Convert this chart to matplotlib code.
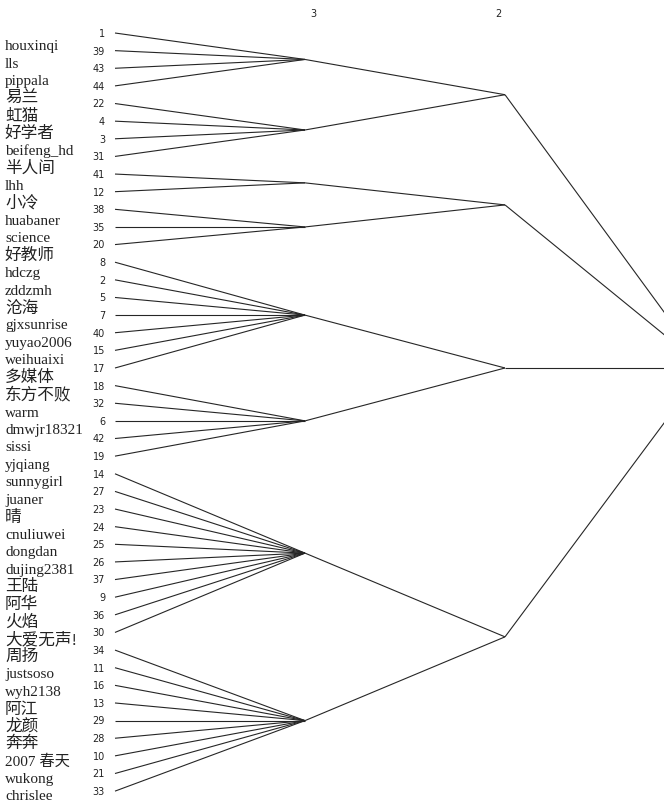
import numpy as np
import matplotlib
matplotlib.use("Agg")
import matplotlib.pyplot as plt

# user names, listed down the left side
names = ["houxinqi", "lls", "pippala", "易兰", "虹猫", "好学者", "beifeng_hd", "半人间",
         "lhh", "小冷", "huabaner", "science", "好教师", "hdczg", "zddzmh", "沧海",
         "gjxsunrise", "yuyao2006", "weihuaixi", "多媒体", "东方不败", "warm",
         "dmwjr18321", "sissi", "yjqiang", "sunnygirl", "juaner", "晴", "cnuliuwei",
         "dongdan", "dujing2381", "王陆", "阿华", "火焰", "大爱无声!", "周扬",
         "justsoso", "wyh2138", "阿江", "龙颜", "奔奔", "2007 春天", "wukong", "chrislee"]

# leaf ids in tree order
leaf_ids = [1, 39, 43, 44, 22, 4, 3, 31, 41, 12, 38, 35, 20, 8, 2, 5, 7, 40, 15, 17,
            18, 32, 6, 42, 19, 14, 27, 23, 24, 25, 26, 37, 9, 36, 30, 34, 11, 16, 13,
            29, 28, 10, 21, 33]

# number of leaves in each level-3 cluster
level3_sizes = [4, 4, 2, 3, 7, 5, 10, 9]
# number of level-3 clusters joined in each level-2 cluster
level2_sizes = [2, 2, 2, 2]
# level labels shown at the top
level_labels = ["3", "2"]

fig = plt.figure(figsize=(6.64, 8.07), dpi=100)
ax = fig.add_axes([0, 0, 1, 1])
ax.set_xlim(4.525, 1.205)
ax.set_ylim(43.9, -1.872)
ax.axis("off")

line_kw = dict(color="#262626", lw=0.8, solid_capstyle="butt")
leaf_x = 3.95

leaf_y = np.arange(len(leaf_ids), dtype=float)

# level 3
l3_y = []
start = 0
for s in level3_sizes:
    ys = leaf_y[start:start + s]
    cy = ys.mean()
    l3_y.append(cy)
    for y in ys:
        ax.plot([leaf_x, 3], [y, cy], **line_kw)
    start += s

# level 2
l2_y = []
start = 0
for s in level2_sizes:
    ys = l3_y[start:start + s]
    cy = np.mean(ys)
    l2_y.append(cy)
    for y in ys:
        ax.plot([3, 2], [y, cy], **line_kw)
    start += s

# root (level 1) sits level with the third branch
root_y = l2_y[2]
for y in l2_y:
    ax.plot([2, 1], [y, root_y], **line_kw)

# leaf numbers
for y, lid in zip(leaf_y, leaf_ids):
    ax.text(4.0, y + 0.05, str(lid), ha="right", va="center",
            fontsize=7, family="DejaVu Sans", color="#222222")

# names (pure chinese names come out a bit larger in the original)
for k, nm in enumerate(names):
    cjk = all(ord(c) > 0x2e80 or c == "!" for c in nm)
    ax.text(4.5, 0.79 + k * 0.989, nm, ha="left", va="center",
            fontsize=12 if cjk else 11,
            family=["Liberation Serif", "Noto Sans CJK SC"], color="#222222")

# level labels
ax.text(2.96, -1.08, level_labels[0], ha="center", va="center", fontsize=7,
        family="DejaVu Sans", color="#222222")
ax.text(2.035, -1.08, level_labels[1], ha="center", va="center", fontsize=7,
        family="DejaVu Sans", color="#222222")

fig.savefig("out.png", dpi=100)
